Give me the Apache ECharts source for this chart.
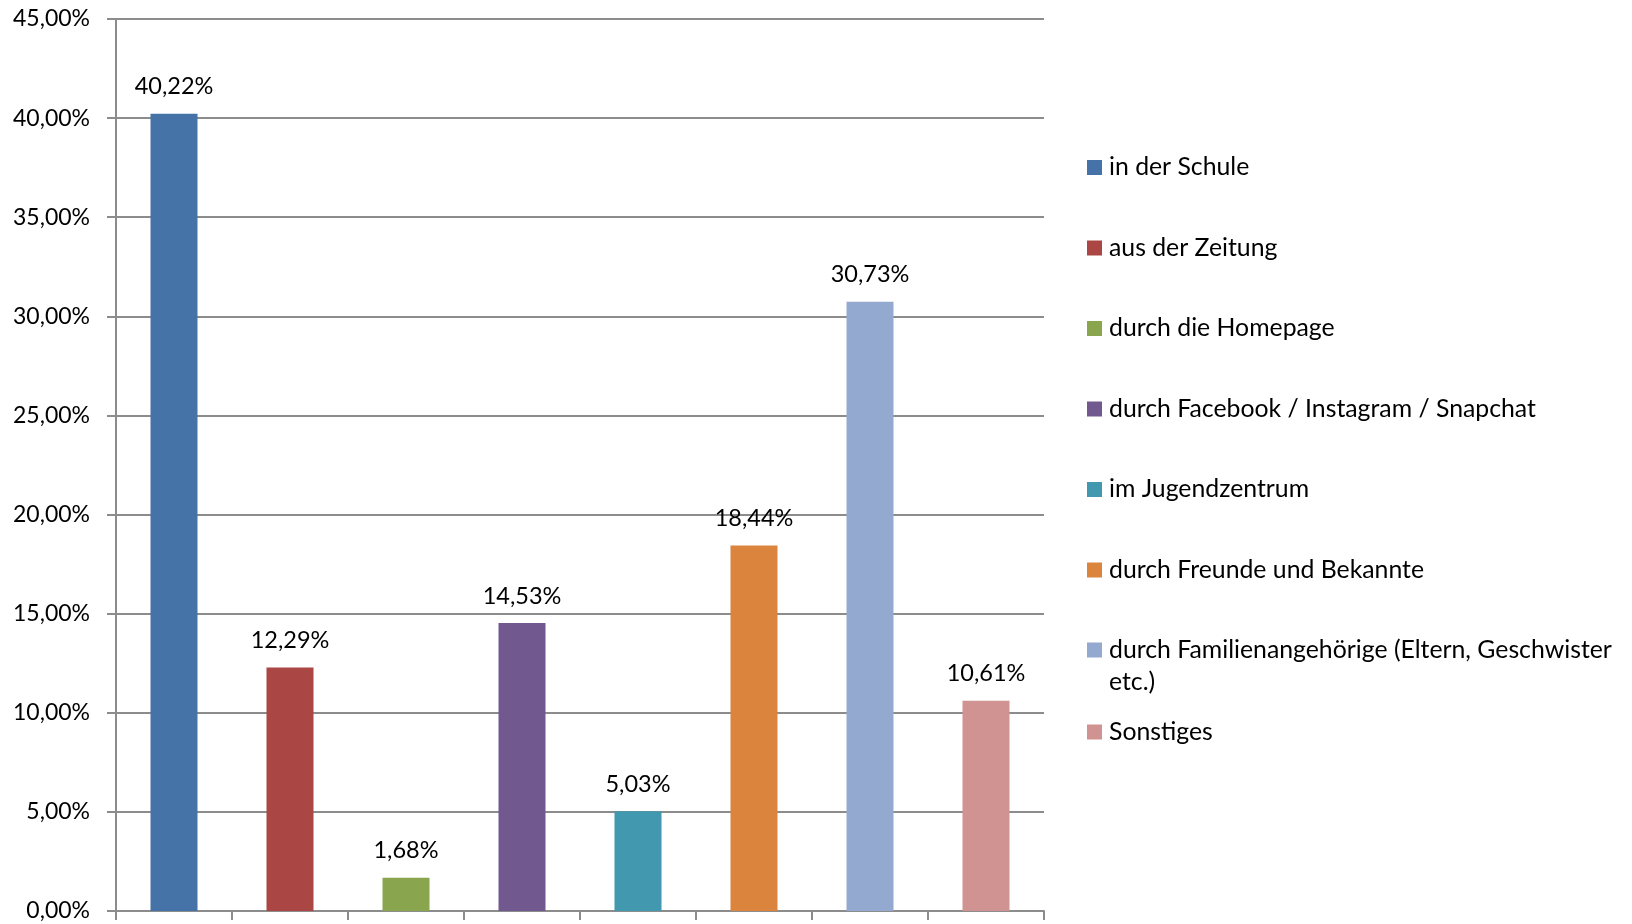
<!DOCTYPE html>
<html>
<head>
<meta charset="utf-8">
<script src="https://cdn.jsdelivr.net/npm/echarts@6/dist/echarts.min.js"></script>
<style>
html,body{margin:0;padding:0;background:#fff;}
#chart{width:1632px;height:924px;}
</style>
</head>
<body>
<div id="chart"></div>
<script>
const categories = [
  'in der Schule',
  'aus der Zeitung',
  'durch die Homepage',
  'durch Facebook / Instagram / Snapchat',
  'im Jugendzentrum',
  'durch Freunde und Bekannte',
  'durch Familienangehörige (Eltern, Geschwister etc.)',
  'Sonstiges'
];
const values = [40.22, 12.29, 1.68, 14.53, 5.03, 18.44, 30.73, 10.61];
const colors = ['#4572A7', '#AA4643', '#89A54E', '#71588F', '#4198AF', '#DB843D', '#93A9CF', '#D19392'];
const yMin = 0, yMax = 45, yStep = 5;

const FONT = 'Lato';
const fmt = v => v.toFixed(2).replace('.', ',') + '%';

const chart = echarts.init(document.getElementById('chart'));

const series = categories.map((name, i) => ({
  name: name,
  type: 'bar',
  stack: 'all',
  barWidth: 47,
  itemStyle: { color: colors[i] },
  data: categories.map((c, j) => j === i ? values[i] : '-'),
  label: {
    show: true,
    position: 'top',
    distance: 15,
    fontFamily: FONT,
    fontSize: 23.5,
    color: '#000',
    formatter: p => fmt(p.value)
  },
  emphasis: { disabled: true }
}));

const LH = 34;
const LH_WRAP = 32;
const legendCenters = [167.5, 248, 328.5, 409, 489.5, 570, 650, 732];
const legends = categories.map((name, i) => {
  const wrapped = i === 6;
  const lh = wrapped ? LH_WRAP : LH;
  return {
    data: [name],
    orient: 'vertical',
    left: 1087,
    top: legendCenters[i] - (wrapped ? lh * 1.5 : lh / 2),
    padding: 0,
    itemWidth: 15,
    itemHeight: 15,
    icon: 'rect',
    selectedMode: false,
    formatter: wrapped ? (n => '\n' + n.replace(' etc.)', '\netc.)')) : (n => n),
    textStyle: {
      fontFamily: FONT,
      fontSize: 24.8,
      color: '#000',
      lineHeight: lh,
      padding: [0, 0, 0, 2]
    }
  };
});

chart.setOption({
  animation: false,
  backgroundColor: '#fff',
  grid: { left: 116, top: 19, right: 588, bottom: 13, containLabel: false },
  legend: legends,
  xAxis: {
    type: 'category',
    data: categories,
    axisLine: { show: true, lineStyle: { color: '#8c8c8c', width: 2 } },
    axisTick: { show: true, interval: 0, length: 9, lineStyle: { color: '#8c8c8c', width: 2 } },
    axisLabel: { show: false },
    splitLine: { show: false }
  },
  yAxis: {
    type: 'value',
    min: yMin,
    max: yMax,
    interval: yStep,
    axisLine: { show: true, lineStyle: { color: '#8c8c8c', width: 2 } },
    axisTick: { show: true, length: 9, lineStyle: { color: '#8c8c8c', width: 2 } },
    axisLabel: {
      margin: 26,
      fontFamily: FONT,
      fontSize: 23,
      color: '#000',
      formatter: v => fmt(v)
    },
    splitLine: { show: true, lineStyle: { color: '#8c8c8c', width: 2 } }
  },
  series: series
});
</script>
</body>
</html>
